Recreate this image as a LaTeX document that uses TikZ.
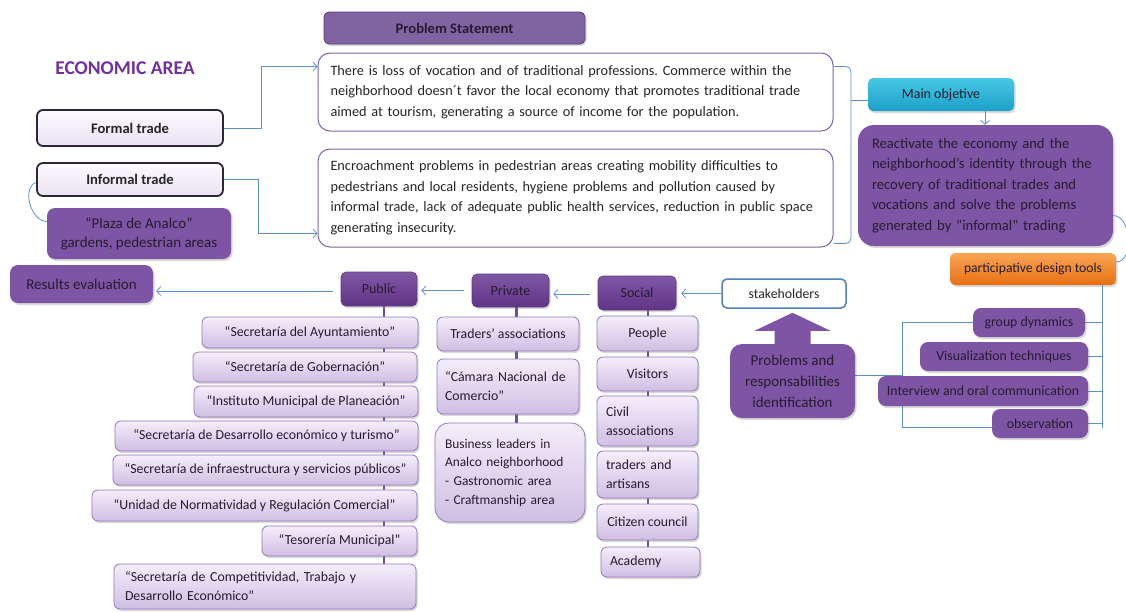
\documentclass[tikz,border=0pt]{standalone}
\usepackage{fontspec}
\setmainfont{Carlito}
\usetikzlibrary{arrows.meta,calc,backgrounds,shadows}
\frenchspacing

\definecolor{linkblue}{RGB}{93,145,206}
\definecolor{probedge}{RGB}{128,100,162}
\definecolor{tradeedge}{RGB}{45,38,55}
\definecolor{tradetop}{RGB}{252,250,254}
\definecolor{tradebot}{RGB}{234,226,243}
\definecolor{boxpurple}{RGB}{126,84,164}
\definecolor{statepurple}{RGB}{128,100,162}
\definecolor{headtop}{RGB}{128,86,166}
\definecolor{headbot}{RGB}{96,52,134}
\definecolor{headedge}{RGB}{90,60,120}
\definecolor{lavtop}{RGB}{244,238,250}
\definecolor{lavbot}{RGB}{208,190,228}
\definecolor{lavedge}{RGB}{150,118,186}
\definecolor{stemcol}{RGB}{112,78,150}
\definecolor{cyantop}{RGB}{70,200,230}
\definecolor{cyanbot}{RGB}{28,160,200}
\definecolor{orangetop}{RGB}{250,165,85}
\definecolor{orangebot}{RGB}{230,112,20}
\definecolor{textdark}{RGB}{38,28,48}
\definecolor{titlepurple}{RGB}{112,48,160}
\definecolor{stakeedge}{RGB}{79,129,189}

\tikzset{
  link/.style={draw=linkblue, line width=0.8pt},
  tip/.style={-{Straight Barb[length=4pt,width=9pt]}},
  softshadow/.style={drop shadow={opacity=0.3, shadow xshift=1.5pt, shadow yshift=-2pt}},
  probbox/.style={draw=probedge, fill=white, line width=1pt, rounded corners=12, align=left,
    inner xsep=12.5, inner ysep=0, font=\fontsize{14.3}{20.5}\selectfont, text=black!85},
  tradebox/.style={draw=tradeedge, line width=1.8pt, rounded corners=6, top color=tradetop,
    bottom color=tradebot, font=\bfseries\fontsize{14.6}{16}\selectfont, text=black!85, inner sep=0},
  purplebox/.style={fill=boxpurple, rounded corners=8, text=textdark, inner sep=0,
    font=\fontsize{13.8}{19}\selectfont, softshadow},
  headbox/.style={top color=headtop, bottom color=headbot, draw=headedge, line width=0.6pt,
    rounded corners=5, text=textdark, inner sep=0, font=\fontsize{14}{16}\selectfont, softshadow},
  lavbox/.style={top color=lavtop, bottom color=lavbot, draw=lavedge, line width=0.8pt,
    rounded corners=6, text=textdark, inner sep=0, font=\fontsize{13.8}{19}\selectfont, softshadow},
  stem/.style={draw=stemcol, line width=2.5pt}
}

\begin{document}
\begin{tikzpicture}[x=1pt,y=-1pt]
  \useasboundingbox (0,0) rectangle (1126,611);

  %%% problem side
  \node[font=\bfseries\fontsize{19.5}{22}\selectfont, text=titlepurple] (title) at (125,68) {ECONOMIC AREA};
  \node[fill=statepurple, draw=headedge, line width=0.8pt, rounded corners=5, minimum width=261, minimum height=32,
    font=\bfseries\fontsize{14.6}{16}\selectfont, text=textdark, softshadow] (statement) at (454.5,28) {Problem Statement};

  \node[probbox, text width=490, minimum height=78] (prob1) at (575.5,92)
    {There is loss of vocation and of traditional professions. Commerce within the\\
     neighborhood doesn´t favor the local economy that promotes traditional trade\\
     aimed at  tourism, generating a source of income for the population.};
  \node[probbox, text width=490, minimum height=98] (prob2) at (575.5,198)
    {Encroachment problems in pedestrian areas creating mobility difficulties to\\
     pedestrians and local residents, hygiene problems and pollution caused by\\
     informal trade, lack of adequate public health services, reduction in public space\\
     generating insecurity.};

  \node[tradebox, minimum width=186, minimum height=36] (formal) at (130,128) {Formal trade};
  \node[tradebox, minimum width=186, minimum height=33] (informal) at (130,179.5) {Informal trade};
  \node[purplebox, minimum width=184, minimum height=51, align=center, font=\fontsize{15}{19}\selectfont] (plaza) at (139,233.5)
    {“Plaza de Analco”\\gardens, pedestrian areas};

  %%% objective side
  \node[top color=cyantop, bottom color=cyanbot, rounded corners=5, minimum width=146, minimum height=33,
    text=textdark, font=\fontsize{14}{16}\selectfont, softshadow] (mainobj) at (941,94.5) {Main objetive};
  \node[purplebox, text width=227, inner xsep=14, minimum height=121, align=left, rounded corners=16,
    font=\fontsize{14.6}{20.5}\selectfont] (objective) at (985.5,185.5)
    {Reactivate the economy and the\\
     neighborhood’s identity through the\\
     recovery of traditional trades and\\
     vocations and solve the  problems\\
     generated by "informal" trading};
  \node[top color=orangetop, bottom color=orangebot, rounded corners=5, minimum width=166, minimum height=32,
    text=textdark, font=\fontsize{13.6}{16}\selectfont, softshadow] (tools) at (1033,269) {participative design tools};

  \node[purplebox, minimum width=112, minimum height=29] (group) at (1029,322.5) {group dynamics};
  \node[purplebox, minimum width=168, minimum height=29] (visual) at (1004,356.5) {Visualization techniques};
  \node[purplebox, minimum width=210, minimum height=30] (interview) at (983,391) {Interview and oral communication};
  \node[purplebox, minimum width=96, minimum height=29] (observation) at (1040,423.5) {observation};

  \node[purplebox, minimum width=125, minimum height=74, align=center, rounded corners=12,
    font=\fontsize{15}{21}\selectfont] (problems) at (792.5,381)
    {Problems and\\responsabilities\\identification};
  \begin{scope}[shift={(problems.north)}]
    \fill[boxpurple] (-18,4) -- (-18,-13) -- (-38,-13) -- (0,-31) -- (38,-13) -- (18,-13) -- (18,4) -- cycle;
  \end{scope}
  \node[draw=stakeedge, line width=1.5pt, fill=white, rounded corners=5, minimum width=124, minimum height=29,
    font=\fontsize{13.8}{16}\selectfont, text=black!85] (stake) at (784,293.5) {stakeholders};

  %%% stakeholder columns
  \node[headbox, minimum width=78, minimum height=34] (social) at (637,293) {Social};
  \node[headbox, minimum width=77, minimum height=33] (private) at (510.5,290.5) {Private};
  \node[headbox, minimum width=76, minimum height=34] (public) at (379,289) {Public};
  \node[purplebox, minimum width=143, minimum height=38, font=\fontsize{15}{19}\selectfont] (results) at (81.5,284) {Results evaluation};

  \node[lavbox, minimum width=216, minimum height=31] (pub1) at (310,332.5) {“Secretaría del Ayuntamiento”};
  \node[lavbox, minimum width=224, minimum height=30] (pub2) at (305,367) {“Secretaría de Gobernación”};
  \node[lavbox, minimum width=224, minimum height=31] (pub3) at (306,401.5) {“Instituto Municipal de Planeación”};
  \node[lavbox, minimum width=303, minimum height=30] (pub4) at (266.5,436) {“Secretaría de Desarrollo económico y turismo”};
  \node[lavbox, minimum width=305, minimum height=30] (pub5) at (265.5,470) {“Secretaría de infraestructura y servicios públicos”};
  \node[lavbox, minimum width=325, minimum height=31] (pub6) at (254.5,505.5) {“Unidad de Normatividad  y Regulación Comercial”};
  \node[lavbox, minimum width=155, minimum height=30] (pub7) at (339.5,541) {“Tesorería  Municipal”};
  \node[lavbox, text width=280, inner xsep=11, minimum height=45, align=left] (pub8) at (265,586.5)
    {“Secretaría de  Competitividad,  Trabajo y\\Desarrollo Económico”};

  \node[lavbox, minimum width=142, minimum height=34] (pri1) at (508,334) {Traders' associations};
  \node[lavbox, text width=126, inner xsep=8, minimum height=55, align=left] (pri2) at (508,386.5)
    {“Cámara Nacional de\\Comercio”};
  \node[lavbox, text width=130, inner xsep=10, minimum height=99, align=left, rounded corners=14,
    font=\fontsize{13.4}{18.7}\selectfont] (pri3) at (510,472.5)
    {Business leaders in\\Analco neighborhood\\- Gastronomic area\\-  Craftmanship area};

  \node[lavbox, minimum width=101, minimum height=35] (soc1) at (647.5,333.5) {People};
  \node[lavbox, minimum width=101, minimum height=34] (soc2) at (647.5,374) {Visitors};
  \node[lavbox, text width=83, inner xsep=9, minimum height=50, align=left] (soc3) at (647.5,421) {Civil\\associations};
  \node[lavbox, text width=83, inner xsep=9, minimum height=47, align=left] (soc4) at (647.5,474.5) {traders and\\artisans};
  \node[lavbox, minimum width=101, minimum height=36] (soc5) at (647.5,522) {Citizen council};
  \node[lavbox, text width=81, inner xsep=9, minimum height=30, align=left] (soc6) at (650.5,562) {Academy};

  %%% connectors
  \begin{scope}[on background layer]
    \coordinate (p1in) at ($(prob1.north west)+(0,14)$);
    \coordinate (p2in) at ($(prob2.south west)+(0,-14)$);
    \draw[link,tip] (formal.east) -- ++(37,0) |- (p1in);
    \draw[link,tip] (informal.east) -- ++(34,0) |- (p2in);
    \draw[link] ([yshift=-3]informal.west) to[out=200,in=180] ([yshift=12]plaza.west);

    \coordinate (brace) at (851,100);
    \draw[link, rounded corners=5] ($(prob1.north east)+(0,14)$) -| (brace) |- ($(prob2.south east)+(0,-4)$);
    \draw[link] (brace) -- (brace -| mainobj.west);
    \draw[link,tip] ([xshift=44]mainobj.south) -- ([xshift=44]mainobj.south |- objective.north);
    \draw[link] ([yshift=-30]objective.east) to[out=0,in=0] ([yshift=7]tools.east);

    \coordinate (trunk) at ([xshift=69]tools.south);
    \draw[link] (trunk) -- ++(0,143);
    \foreach \t in {group,visual,interview,observation}
      \draw[link] (\t.east -| trunk) -- (\t.east);
    \coordinate (fork) at (902,375);
    \draw[link] ([yshift=6]problems.east) -- (fork);
    \draw[link] (group.west) -| (fork) |- ([yshift=-4]observation.west);

    \draw[link,tip,shorten >=5pt] (stake.west) -- (stake.west -| social.east);
    \draw[link,tip,shorten >=4pt,shorten <=8pt] ([yshift=-1]social.west) -- ([yshift=-1]social.west -| private.east);
    \draw[link,tip,shorten >=4pt,shorten <=8pt] (private.west) -- (private.west -| public.east);
    \draw[link,tip,shorten >=3pt,shorten <=8pt] ([yshift=-2]public.west) -- ([yshift=-2]public.west -| results.east);

    \draw[stem] ([xshift=5]public.south) -- ([xshift=5]public.south |- pub8.north);
    \draw[stem] ([xshift=6]private.south) -- ([xshift=6]private.south |- pri3.north);
    \draw[stem] ([xshift=11]social.south) -- ([xshift=11]social.south |- soc6.north);
  \end{scope}
\end{tikzpicture}
\end{document}
